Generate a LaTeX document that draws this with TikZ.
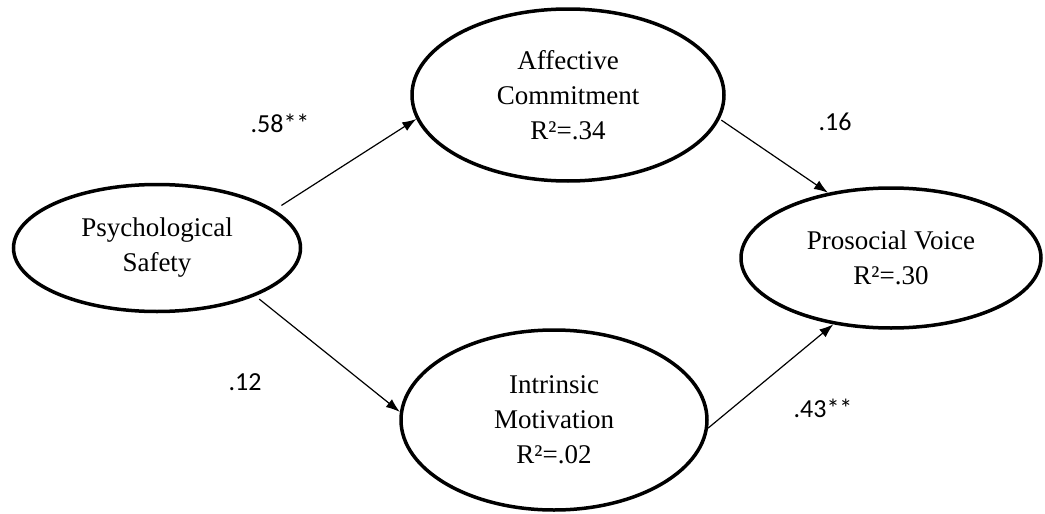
\documentclass[tikz,border=0pt]{standalone}
\usepackage{fontspec}
\setmainfont{Liberation Serif}
\newfontfamily\coeffont{Carlito}
\usetikzlibrary{shapes.geometric,arrows.meta}
\begin{document}
\begin{tikzpicture}[x=1pt,y=-1pt,
  latent/.style={ellipse,draw,line width=3.5pt,inner sep=0pt,align=center,
    font=\fontsize{27}{35}\selectfont},
  effect/.style={-{Latex[length=14pt,width=10pt]},line width=1.2pt},
  coef/.style={font=\coeffont\fontsize{26}{30}\selectfont}]
\useasboundingbox (0,0) rectangle (1045,514);
%latent variables
\node[latent,minimum width=287pt,minimum height=127pt] (ps) at (157,248) {Psychological\\Safety};
\node[latent,minimum width=312pt,minimum height=172pt] (ac) at (568,95) {Affective\\Commitment\\R²=.34};
\node[latent,minimum width=306pt,minimum height=180pt] (im) at (554,420) {Intrinsic\\Motivation\\R²=.02};
\node[latent,minimum width=300pt,minimum height=140pt] (pv) at (891,258) {Prosocial Voice\\R²=.30};
%paths
\draw[effect,shorten <=8pt] (ps.18) -- (ac.189);
\draw[effect,shorten <=5pt] (ps.-26) -- (im.177);
\draw[effect,shorten <=2pt] (ac.-9) -- (pv.134);
\draw[effect] (im.-3) -- (pv.229);
%coefficients
\node[coef] (c58) at (280,123) {.58**};
\node[coef] (c16) at (835,122) {.16};
\node[coef] (c12) at (245,382) {.12};
\node[coef] (c43) at (823,408) {.43**};
\end{tikzpicture}
\end{document}
